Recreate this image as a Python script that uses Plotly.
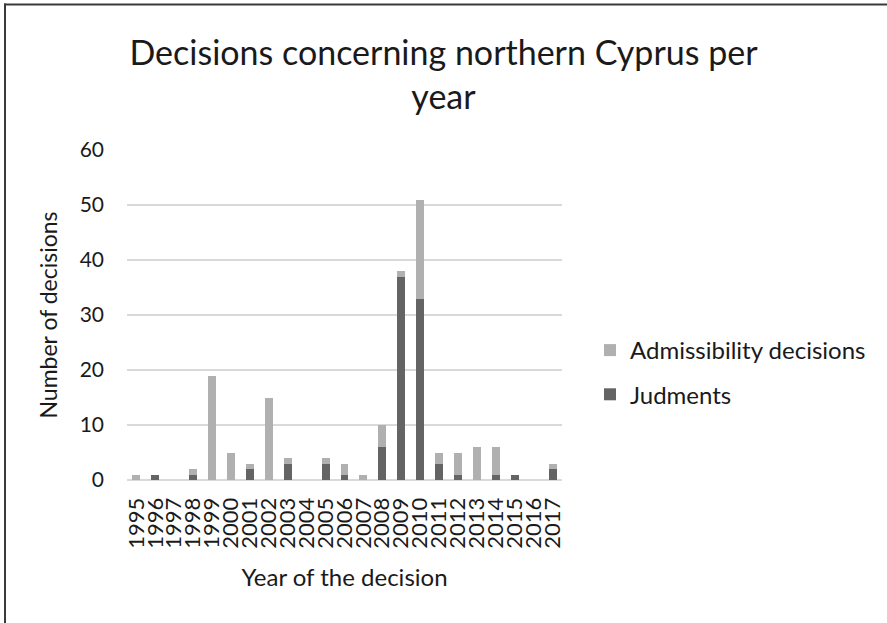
import plotly.graph_objects as go

years = [str(y) for y in range(1995, 2018)]
judgments = [0, 1, 0, 1, 0, 0, 2, 0, 3, 0, 3, 1, 0, 6, 37, 33, 3, 1, 0, 1, 1, 0, 2]
admissibility = [1, 0, 0, 1, 19, 5, 1, 15, 1, 0, 1, 2, 1, 4, 1, 18, 2, 4, 6, 5, 0, 0, 1]
y_ticks = [0, 10, 20, 30, 40, 50, 60]

W, H = 887, 623
ML, MR, MT, MB = 127, 325, 150, 143
PW = W - ML - MR
PH = H - MT - MB

FONT = "Lato"
TXT = "#1a1a1a"

fig = go.Figure()
fig.add_trace(go.Bar(x=years, y=judgments, name="Judments",
                     marker=dict(color="#646464", line=dict(width=0)),
                     legendgroup="j", legendrank=2))
fig.add_trace(go.Bar(x=years, y=admissibility, name="Admissibility decisions",
                     marker=dict(color="#b0b0b0", line=dict(width=0)),
                     legendgroup="a", legendrank=1))

def px_x(p):
    return (p - ML) / PW

def px_y(p):
    return (H - MB - p) / PH

shapes = [
    dict(type="line", xref="paper", yref="paper",
         x0=px_x(4), x1=px_x(W + 2), y0=px_y(4.5), y1=px_y(4.5),
         line=dict(color="#3a3a3a", width=2)),
    dict(type="line", xref="paper", yref="paper",
         x0=px_x(5), x1=px_x(5), y0=px_y(3.5), y1=px_y(H + 2),
         line=dict(color="#3a3a3a", width=2)),
]

fig.update_layout(
    width=W, height=H,
    margin=dict(l=ML, r=MR, t=MT, b=MB),
    paper_bgcolor="white", plot_bgcolor="white",
    barmode="stack", bargap=0.58,
    font=dict(family=FONT, color=TXT, size=21),
    title=dict(text="Decisions concerning northern Cyprus per<br>year",
               x=0.5, xref="container", xanchor="center",
               y=1 - 65 / H, yref="container", yanchor="middle",
               font=dict(family=FONT, size=34, color=TXT)),
    showlegend=True,
    legend=dict(x=px_x(590), y=px_y(328), xanchor="left", yanchor="top",
                traceorder="grouped", tracegroupgap=10,
                font=dict(family=FONT, size=24, color=TXT),
                itemwidth=30, bgcolor="rgba(0,0,0,0)"),
    shapes=shapes,
)
fig.update_xaxes(
    type="category", tickmode="linear", dtick=1, tickangle=-90,
    showgrid=False, showline=False, zeroline=False,
    ticks="outside", ticklen=8, tickcolor="rgba(0,0,0,0)",
    tickfont=dict(family=FONT, size=22, color=TXT),
    title=dict(text="Year of the decision", standoff=21,
               font=dict(family=FONT, size=24, color=TXT)),
)
fig.update_yaxes(
    range=[0, 60], tickvals=y_ticks, showgrid=True, gridcolor="#d9d9d9",
    gridwidth=1.5, zeroline=True, zerolinecolor="#d9d9d9", zerolinewidth=1.5,
    showline=False, ticks="", ticklabelstandoff=22,
    tickfont=dict(family=FONT, size=21, color=TXT),
    title=dict(text="Number of decisions", standoff=15,
               font=dict(family=FONT, size=23, color=TXT)),
)

fig.write_html("out.html")
